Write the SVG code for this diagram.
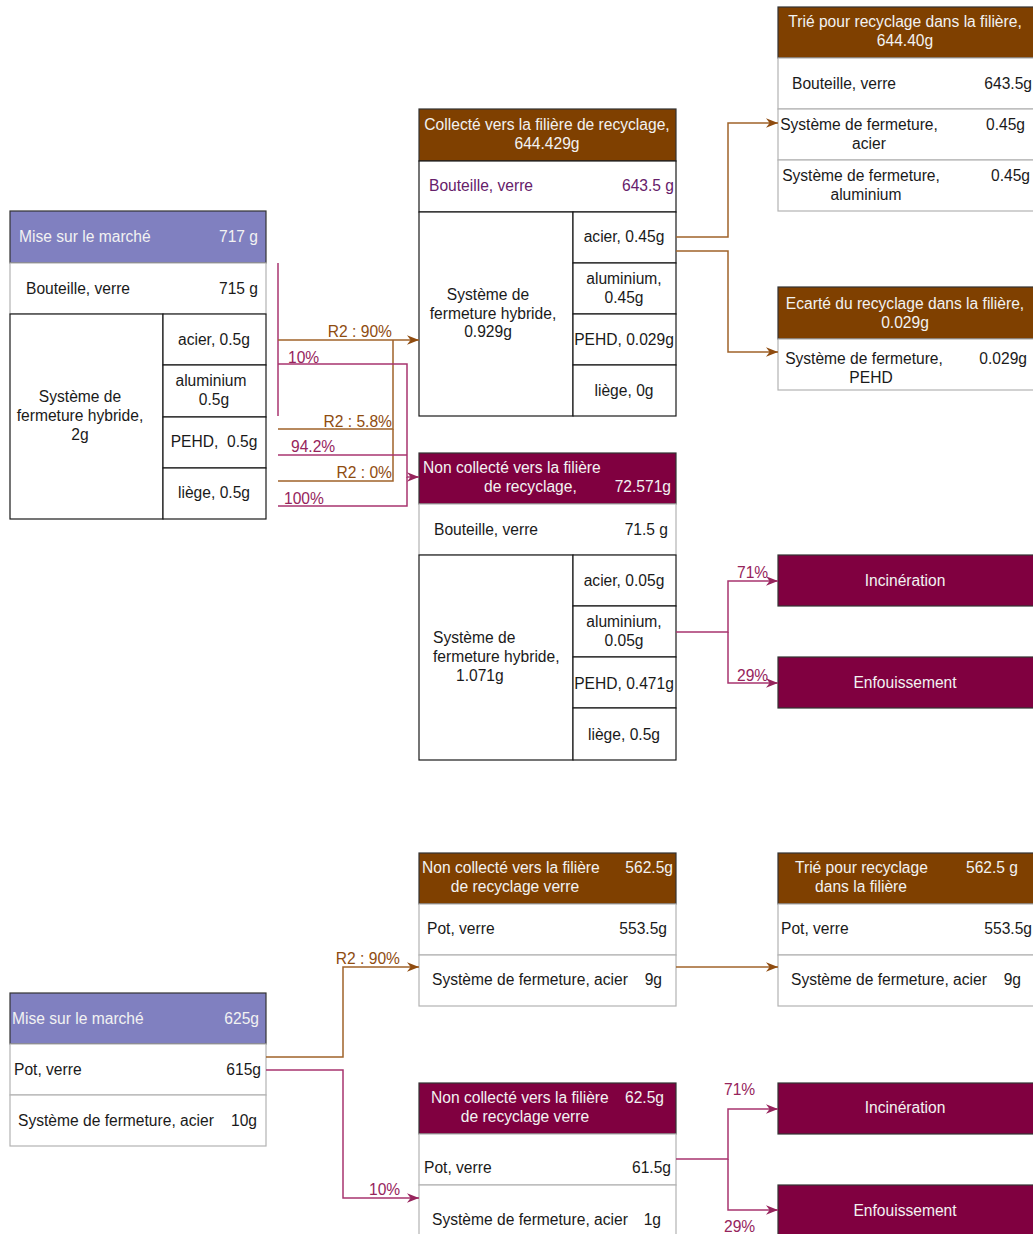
<svg xmlns="http://www.w3.org/2000/svg" width="1033" height="1234" viewBox="0 0 1033 1234">
  <style>
    text { font-family: "Liberation Sans", Arial, sans-serif; font-size: 15.6px; fill: #1a1a1a; }
    .hd-purple { fill: #8080C0; stroke: #333333; stroke-width: 1.2; }
    .hd-brown { fill: #7F4000; stroke: #333333; stroke-width: 1.2; }
    .hd-wine { fill: #800040; stroke: #333333; stroke-width: 1.2; }
    .row { fill: #FFFFFF; stroke: #B3B3B3; stroke-width: 1.2; }
    .cell { fill: #FFFFFF; stroke: #1a1a1a; stroke-width: 1.2; }
    .ht { fill: #F2F2F2; }
    .pt { fill: #66206A; }
    .mid { text-anchor: middle; }
    .end { text-anchor: end; }
    .c-brown { fill: none; stroke: #A0632A; stroke-width: 1.5; }
    .c-wine { fill: none; stroke: #A8356F; stroke-width: 1.5; }
    .l-brown { fill: #8F4C10; }
    .l-wine { fill: #96245C; }
  </style>
  <defs>
    <marker id="arrBrown" viewBox="0 0 10 8" refX="10" refY="4" markerWidth="12" markerHeight="10" markerUnits="userSpaceOnUse" orient="auto">
      <path d="M0,0 L10,4 L0,8 L3,4 Z" fill="#8F4C10"/>
    </marker>
    <marker id="arrWine" viewBox="0 0 10 8" refX="10" refY="4" markerWidth="12" markerHeight="10" markerUnits="userSpaceOnUse" orient="auto">
      <path d="M0,0 L10,4 L0,8 L3,4 Z" fill="#96245C"/>
    </marker>
  </defs>

  <rect width="1033" height="1234" fill="#FFFFFF"/>

  <!-- ===== Bottle: placed on market ===== -->
  <g id="marche-bouteille">
    <rect class="hd-purple" x="10" y="211" width="256" height="52"/>
    <text class="ht" x="19" y="242">Mise sur le marché</text>
    <text class="ht end" x="258" y="242">717 g</text>
    <rect class="row" x="10" y="263" width="256" height="51"/>
    <text x="26" y="294">Bouteille, verre</text>
    <text class="end" x="258" y="294">715 g</text>
    <rect class="cell" x="10" y="314" width="153" height="205"/>
    <text class="mid" x="80" y="402">Système de</text>
    <text class="mid" x="80" y="421">fermeture hybride,</text>
    <text class="mid" x="80" y="440">2g</text>
    <rect class="cell" x="163" y="314" width="103" height="51"/>
    <text class="mid" x="214" y="345">acier, 0.5g</text>
    <rect class="cell" x="163" y="365" width="103" height="52"/>
    <text class="mid" x="211" y="386">aluminium</text>
    <text class="mid" x="214" y="405">0.5g</text>
    <rect class="cell" x="163" y="417" width="103" height="51"/>
    <text class="mid" x="214" y="447">PEHD,&#160; 0.5g</text>
    <rect class="cell" x="163" y="468" width="103" height="51"/>
    <text class="mid" x="214" y="498">liège, 0.5g</text>
  </g>

  <!-- ===== Bottle: collected ===== -->
  <g id="collecte-bouteille">
    <rect class="hd-brown" x="419" y="109" width="257" height="52"/>
    <text class="ht mid" x="547" y="130">Collecté vers la filière de recyclage,</text>
    <text class="ht mid" x="547" y="149">644.429g</text>
    <rect class="cell" x="419" y="161" width="257" height="51"/>
    <text class="pt" x="429" y="191">Bouteille, verre</text>
    <text class="pt end" x="674" y="191">643.5 g</text>
    <rect class="cell" x="419" y="212" width="154" height="204"/>
    <text class="mid" x="488" y="300">Système de</text>
    <text class="mid" x="493" y="319">fermeture hybride,</text>
    <text class="mid" x="488" y="337">0.929g</text>
    <rect class="cell" x="573" y="212" width="103" height="51"/>
    <text class="mid" x="624" y="242">acier, 0.45g</text>
    <rect class="cell" x="573" y="263" width="103" height="51"/>
    <text class="mid" x="624" y="284">aluminium,</text>
    <text class="mid" x="624" y="303">0.45g</text>
    <rect class="cell" x="573" y="314" width="103" height="51"/>
    <text class="mid" x="624" y="345">PEHD, 0.029g</text>
    <rect class="cell" x="573" y="365" width="103" height="51"/>
    <text class="mid" x="624" y="396">liège, 0g</text>
  </g>

  <!-- ===== Bottle: sorted for recycling ===== -->
  <g id="trie-bouteille">
    <rect class="hd-brown" x="778" y="7" width="262" height="51"/>
    <text class="ht mid" x="905" y="27">Trié pour recyclage dans la filière,</text>
    <text class="ht mid" x="905" y="46">644.40g</text>
    <rect class="row" x="778" y="58" width="262" height="51"/>
    <text x="792" y="89">Bouteille, verre</text>
    <text class="end" x="1032" y="89">643.5g</text>
    <rect class="row" x="778" y="109" width="262" height="51"/>
    <text class="mid" x="859" y="130">Système de fermeture,</text>
    <text class="mid" x="869" y="149">acier</text>
    <text class="end" x="1025" y="130">0.45g</text>
    <rect class="row" x="778" y="160" width="262" height="51"/>
    <text class="mid" x="861" y="181">Système de fermeture,</text>
    <text class="mid" x="866" y="200">aluminium</text>
    <text class="end" x="1030" y="181">0.45g</text>
  </g>

  <!-- ===== Bottle: rejected by sorting ===== -->
  <g id="ecarte-bouteille">
    <rect class="hd-brown" x="778" y="287" width="262" height="52"/>
    <text class="ht mid" x="905" y="309">Ecarté du recyclage dans la filière,</text>
    <text class="ht mid" x="905" y="328">0.029g</text>
    <rect class="row" x="778" y="339" width="262" height="51"/>
    <text class="mid" x="864" y="364">Système de fermeture,</text>
    <text class="mid" x="871" y="383">PEHD</text>
    <text class="end" x="1027" y="364">0.029g</text>
  </g>

  <!-- ===== Bottle: not collected ===== -->
  <g id="non-collecte-bouteille">
    <rect class="hd-wine" x="419" y="453" width="257" height="51"/>
    <text class="ht" x="423" y="473">Non collecté vers la filière</text>
    <text class="ht" x="484" y="492">de recyclage,</text>
    <text class="ht end" x="671" y="492">72.571g</text>
    <rect class="row" x="419" y="504" width="257" height="51"/>
    <text x="434" y="535">Bouteille, verre</text>
    <text class="end" x="668" y="535">71.5 g</text>
    <rect class="cell" x="419" y="555" width="154" height="205"/>
    <text x="433" y="643">Système de</text>
    <text x="433" y="662">fermeture hybride,</text>
    <text x="456" y="681">1.071g</text>
    <rect class="cell" x="573" y="555" width="103" height="51"/>
    <text class="mid" x="624" y="586">acier, 0.05g</text>
    <rect class="cell" x="573" y="606" width="103" height="51"/>
    <text class="mid" x="624" y="627">aluminium,</text>
    <text class="mid" x="624" y="646">0.05g</text>
    <rect class="cell" x="573" y="657" width="103" height="51"/>
    <text class="mid" x="624" y="689">PEHD, 0.471g</text>
    <rect class="cell" x="573" y="708" width="103" height="52"/>
    <text class="mid" x="624" y="740">liège, 0.5g</text>
  </g>

  <!-- ===== Bottle: end of life ===== -->
  <g id="incineration-bouteille">
    <rect class="hd-wine" x="778" y="555" width="262" height="51"/>
    <text class="ht mid" x="905" y="586">Incinération</text>
  </g>
  <g id="enfouissement-bouteille">
    <rect class="hd-wine" x="778" y="657" width="262" height="51"/>
    <text class="ht mid" x="905" y="688">Enfouissement</text>
  </g>

  <!-- ===== Jar: placed on market ===== -->
  <g id="marche-pot">
    <rect class="hd-purple" x="10" y="993" width="256" height="51"/>
    <text class="ht" x="12" y="1024">Mise sur le marché</text>
    <text class="ht end" x="259" y="1024">625g</text>
    <rect class="row" x="10" y="1044" width="256" height="51"/>
    <text x="14" y="1075">Pot, verre</text>
    <text class="end" x="261" y="1075">615g</text>
    <rect class="row" x="10" y="1095" width="256" height="51"/>
    <text x="18" y="1126">Système de fermeture, acier</text>
    <text class="end" x="257" y="1126">10g</text>
  </g>

  <!-- ===== Jar: collected ===== -->
  <g id="collecte-pot">
    <rect class="hd-brown" x="419" y="853" width="257" height="51"/>
    <text class="ht" x="422" y="873">Non collecté vers la filière</text>
    <text class="ht end" x="673" y="873">562.5g</text>
    <text class="ht mid" x="515" y="892">de recyclage verre</text>
    <rect class="row" x="419" y="904" width="257" height="51"/>
    <text x="427" y="934">Pot, verre</text>
    <text class="end" x="667" y="934">553.5g</text>
    <rect class="row" x="419" y="955" width="257" height="51"/>
    <text x="432" y="985">Système de fermeture, acier</text>
    <text class="end" x="662" y="985">9g</text>
  </g>

  <!-- ===== Jar: sorted for recycling ===== -->
  <g id="trie-pot">
    <rect class="hd-brown" x="778" y="853" width="262" height="51"/>
    <text x="795" y="873" class="ht">Trié pour recyclage</text>
    <text class="ht end" x="1018" y="873">562.5 g</text>
    <text class="ht mid" x="861" y="892">dans la filière</text>
    <rect class="row" x="778" y="904" width="262" height="51"/>
    <text x="781" y="934">Pot, verre</text>
    <text class="end" x="1032" y="934">553.5g</text>
    <rect class="row" x="778" y="955" width="262" height="51"/>
    <text x="791" y="985">Système de fermeture, acier</text>
    <text class="end" x="1021" y="985">9g</text>
  </g>

  <!-- ===== Jar: not collected ===== -->
  <g id="non-collecte-pot">
    <rect class="hd-wine" x="419" y="1083" width="257" height="51"/>
    <text class="ht" x="431" y="1103">Non collecté vers la filière</text>
    <text class="ht end" x="664" y="1103">62.5g</text>
    <text class="ht mid" x="525" y="1122">de recyclage verre</text>
    <rect class="row" x="419" y="1134" width="257" height="51"/>
    <text x="424" y="1173">Pot, verre</text>
    <text class="end" x="671" y="1173">61.5g</text>
    <rect class="row" x="419" y="1185" width="257" height="60"/>
    <text x="432" y="1225">Système de fermeture, acier</text>
    <text class="end" x="661" y="1225">1g</text>
  </g>

  <!-- ===== Jar: end of life ===== -->
  <g id="incineration-pot">
    <rect class="hd-wine" x="778" y="1083" width="262" height="51"/>
    <text class="ht mid" x="905" y="1113">Incinération</text>
  </g>
  <g id="enfouissement-pot">
    <rect class="hd-wine" x="778" y="1185" width="262" height="60"/>
    <text class="ht mid" x="905" y="1216">Enfouissement</text>
  </g>

  <!-- ===== Connectors ===== -->
  <g id="connectors">
    <!-- bottle: market -> collected / not collected -->
    <path class="c-wine" d="M278,263 V416"/>
    <path class="c-brown" d="M278,429 H393 V340"/>
    <path class="c-brown" d="M278,481 H393 V429"/>
    <path class="c-wine" d="M278,455 H407"/>
    <path class="c-wine" d="M278,506 H407 V477"/>
    <path class="c-wine" d="M278,364 H407 V477 H419" marker-end="url(#arrWine)"/>
    <path class="c-brown" d="M278,340 H419" marker-end="url(#arrBrown)"/>
    <!-- bottle: collected -> sorted / rejected -->
    <path class="c-brown" d="M676,237 H728 V123 H778" marker-end="url(#arrBrown)"/>
    <path class="c-brown" d="M676,251 H728 V352 H778" marker-end="url(#arrBrown)"/>
    <!-- bottle: not collected -> end of life -->
    <path class="c-wine" d="M676,632 H728 V581 H778" marker-end="url(#arrWine)"/>
    <path class="c-wine" d="M728,632 V683 H778" marker-end="url(#arrWine)"/>
    <!-- jar: market -> collected / not collected -->
    <path class="c-brown" d="M266,1057 H343 V967 H419" marker-end="url(#arrBrown)"/>
    <path class="c-wine" d="M266,1070 H343 V1198 H419" marker-end="url(#arrWine)"/>
    <!-- jar: collected -> sorted -->
    <path class="c-brown" d="M676,967 H778" marker-end="url(#arrBrown)"/>
    <!-- jar: not collected -> end of life -->
    <path class="c-wine" d="M676,1159 H728 V1109 H778" marker-end="url(#arrWine)"/>
    <path class="c-wine" d="M728,1159 V1210 H778" marker-end="url(#arrWine)"/>

    <!-- edge labels -->
    <text class="l-brown end" x="392" y="337">R2 : 90%</text>
    <text class="l-wine" x="288" y="363">10%</text>
    <text class="l-brown end" x="392" y="427">R2 : 5.8%</text>
    <text class="l-wine" x="291" y="452">94.2%</text>
    <text class="l-brown end" x="392" y="478">R2 : 0%</text>
    <text class="l-wine" x="284" y="504">100%</text>
    <text class="l-wine" x="737" y="578">71%</text>
    <text class="l-wine" x="737" y="681">29%</text>
    <text class="l-brown end" x="400" y="964">R2 : 90%</text>
    <text class="l-wine" x="369" y="1195">10%</text>
    <text class="l-wine" x="724" y="1095">71%</text>
    <text class="l-wine" x="724" y="1232">29%</text>
  </g>
</svg>
